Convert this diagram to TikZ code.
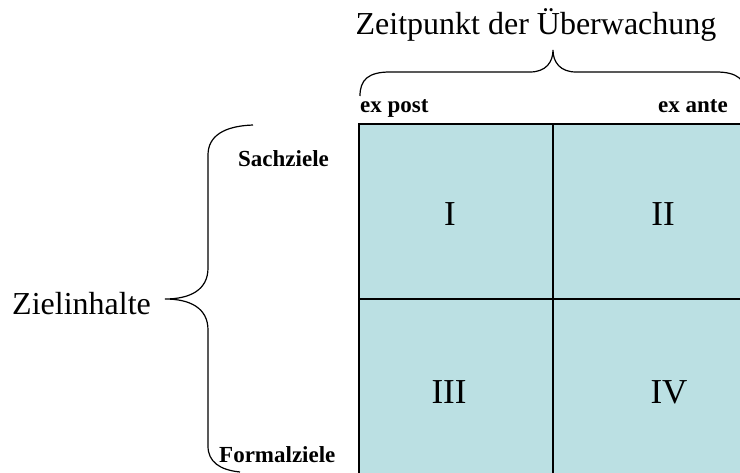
\documentclass[tikz,border=0pt]{standalone}
\usepackage{fontspec}
\setmainfont{Liberation Serif}
\usepackage{tikz}

\definecolor{cellblue}{RGB}{187,224,227}

\begin{document}
\begin{tikzpicture}[x=1pt,y=-1pt,
    big/.style={inner sep=0pt,font=\fontsize{32}{38}\selectfont},
    lbl/.style={inner sep=0pt,font=\fontsize{23}{27}\selectfont\bfseries},
    num/.style={inner sep=0pt,anchor=base,font=\fontsize{35}{40}\selectfont},
    brace/.style={line width=1.2pt}]
\useasboundingbox (0,0) rectangle (740,473);
% matrix of the four fields
\fill[cellblue] (359,124) rectangle (740,473);
\draw[line width=1.6pt] (359,473) -- (359,124) -- (740,124);
\draw[line width=1.6pt] (553,124) -- (553,473);
\draw[line width=1.6pt] (359,299) -- (740,299);
\node[num] (I) at (450,226) {I};
\node[num] (II) at (663,226) {II};
\node[num] (III) at (449,404) {III};
\node[num] (IV) at (669,404) {IV};
% column head
\node[big,anchor=base] (title) at (536,35) {Zeitpunkt der Überwachung};
\draw[brace] (360,96) .. controls (360,80) and (368,72) .. (390,72) -- (530,72)
  .. controls (546,72) and (553,62) .. (553,50)
  .. controls (553,62) and (560,72) .. (576,72) -- (716,72)
  .. controls (738,72) and (746,80) .. (746,96);
\node[lbl,anchor=base west] (post) at (360,113) {ex post};
\node[lbl,anchor=base east] (ante) at (728,113) {ex ante};
% row head
\node[big,anchor=base west] (ziel) at (12,315) {Zielinhalte};
\draw[brace] (253,125) .. controls (224,126) and (208,136) .. (208,155) -- (208,268)
  .. controls (208,290) and (190,299) .. (165,299)
  .. controls (190,299) and (208,308) .. (208,330) -- (208,446)
  .. controls (208,462) and (220,470) .. (240,472);
\node[lbl,anchor=base west] (sach) at (238,167) {Sachziele};
\node[lbl,anchor=base west] (formal) at (219,462) {Formalziele};
\end{tikzpicture}
\end{document}
